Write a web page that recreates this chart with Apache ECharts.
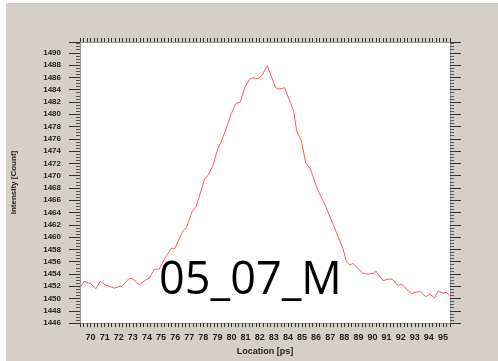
<!DOCTYPE html>
<html>
<head>
<meta charset="utf-8">
<script src="https://cdn.jsdelivr.net/npm/echarts@6/dist/echarts.min.js"></script>
<style>
  html, body { margin: 0; padding: 0; background: #fff; }
  #main { width: 498px; height: 361px; }
</style>
</head>
<body>
<div id="main"></div>
<script>
var myChart = echarts.init(document.getElementById('main'));

// location [ps]
var locations = [69.22, 69.55, 70.02, 70.38, 70.69, 71.01, 71.68, 72.27, 72.75, 72.98,
    73.46, 73.92, 74.17, 74.52, 74.88, 75.25, 75.49, 75.73, 75.96, 76.55,
    76.79, 77.22, 77.50, 78.09, 78.33, 78.68, 79.03, 79.28, 79.63, 79.99,
    80.29, 80.62, 80.93, 81.28, 81.52, 81.87, 82.12, 82.54, 82.82, 83.13,
    83.41, 83.77, 84.12, 84.41, 84.62, 84.95, 85.26, 85.59, 86.13, 86.68,
    87.20, 87.91, 88.15, 88.38, 88.62, 89.33, 89.69, 90.04, 90.23, 90.75,
    91.10, 91.41, 91.81, 92.05, 92.76, 93.35, 93.78, 94.06, 94.41, 94.65,
    95.00, 95.24, 95.48];
// intensity [count]
var intensities = [1451.7, 1452.8, 1452.4, 1451.6, 1452.8, 1452.25, 1451.7, 1452.1, 1453.3, 1453.2,
    1452.25, 1453.05, 1453.3, 1454.75, 1454.8, 1456.5, 1457.3, 1458.2, 1458.1, 1461.0,
    1461.5, 1464.2, 1465.0, 1469.5, 1470.0, 1471.6, 1474.4, 1475.6, 1477.7, 1480.1,
    1481.7, 1482.0, 1484.3, 1485.7, 1485.9, 1485.8, 1486.2, 1487.9, 1486.2, 1484.3,
    1484.1, 1484.3, 1482.2, 1480.5, 1477.3, 1475.7, 1472.1, 1471.1, 1467.6, 1465.0,
    1462.1, 1458.1, 1456.0, 1455.5, 1455.7, 1454.1, 1453.95, 1454.1, 1454.5, 1452.9,
    1453.15, 1453.15, 1452.1, 1452.35, 1450.8, 1451.2, 1450.3, 1450.7, 1450.1, 1451.2,
    1450.9, 1451.0, 1450.5];

var sampleLabel = '05_07_M';

var data = locations.map(function (x, i) {
    return [x, intensities[i]];
});

var tickColor = '#333';
var labelStyle = {
    color: '#222',
    fontFamily: 'Liberation Sans',
    fontWeight: 'bold'
};

function yAxisDef(pos) {
    return {
        type: 'value',
        position: pos,
        min: 1446,
        max: 1491.75,
        interval: 2,
        name: pos === 'left' ? 'Intensity [Count]' : '',
        nameLocation: 'middle',
        nameGap: 62,
        nameRotate: 90,
        nameTextStyle: { color: '#222', fontFamily: 'Liberation Sans', fontWeight: 'bold', fontSize: 8 },
        axisLine: { show: true, lineStyle: { color: '#999', width: 1 } },
        axisTick: { show: true, length: 11, lineStyle: { color: tickColor } },
        minorTick: { show: true, splitNumber: 4, length: 4, lineStyle: { color: '#555' } },
        splitLine: { show: false },
        axisLabel: {
            show: pos === 'left',
            margin: 19,
            fontSize: 8,
            color: labelStyle.color,
            fontFamily: labelStyle.fontFamily,
            fontWeight: labelStyle.fontWeight,
            showMaxLabel: false,
            formatter: function (v) {
                return v % 2 === 0 ? String(v) : '';
            }
        }
    };
}

function xAxisDef(pos) {
    return {
        type: 'value',
        position: pos,
        min: 69.25,
        max: 95.5,
        interval: 0.25,
        name: pos === 'bottom' ? 'Location [ps]' : '',
        nameLocation: 'middle',
        nameGap: 20,
        nameTextStyle: { color: '#222', fontFamily: 'Liberation Sans', fontWeight: 'bold', fontSize: 9 },
        axisLine: { show: true, lineStyle: { color: '#999', width: 1 } },
        axisTick: { show: true, length: 4, lineStyle: { color: tickColor } },
        splitLine: { show: false },
        axisLabel: {
            show: pos === 'bottom',
            margin: 10,
            fontSize: 9,
            color: labelStyle.color,
            fontFamily: labelStyle.fontFamily,
            fontWeight: labelStyle.fontWeight,
            formatter: function (v) {
                return Math.abs(v - Math.round(v)) < 1e-6 ? String(Math.round(v)) : '';
            }
        }
    };
}

var option = {
    backgroundColor: '#fff',
    animation: false,
    graphic: [
        {
            type: 'rect',
            z: -10,
            shape: { x: 6, y: 3, width: 492, height: 358 },
            style: { fill: '#d4d0c8' }
        },
        {
            type: 'text',
            z: 100,
            style: {
                text: sampleLabel,
                x: 159,
                y: 281,
                textVerticalAlign: 'middle',
                font: '45px "Open Sans"',
                fill: '#000'
            }
        }
    ],
    grid: {
        left: 80,
        right: 48,
        top: 42,
        bottom: 32,
        show: true,
        backgroundColor: '#fff',
        borderWidth: 0
    },
    xAxis: [xAxisDef('bottom'), xAxisDef('top')],
    yAxis: [yAxisDef('left'), yAxisDef('right')],
    series: [{
        type: 'line',
        data: data,
        showSymbol: false,
        symbol: 'none',
        lineStyle: { color: '#ff5a5a', width: 1 },
        silent: true
    }]
};
myChart.setOption(option);
</script>
</body>
</html>
